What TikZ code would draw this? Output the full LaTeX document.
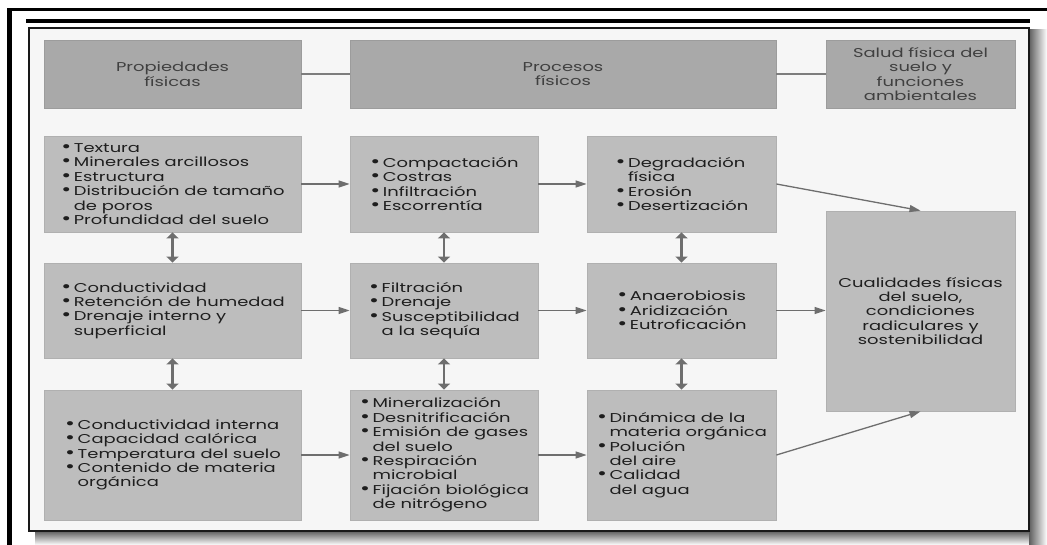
\documentclass[tikz,border=0pt]{standalone}
\usepackage{fontspec}
\setmainfont[FakeStretch=1.4]{Poppins}
\usetikzlibrary{arrows.meta}
\definecolor{boxfill}{HTML}{BDBDBD}
\definecolor{boxline}{HTML}{B0B0B0}
\definecolor{headfill}{HTML}{A9A9A9}
\definecolor{headline}{HTML}{9C9C9C}
\definecolor{arrowc}{HTML}{6E6E6E}
\definecolor{bgc}{HTML}{F6F6F6}
\definecolor{txt}{HTML}{1E1E1E}
\definecolor{shadowc}{HTML}{5E5E5E}
\newcommand{\bu}{\makebox[13.5pt][l]{\hspace{1pt}\scalebox{1.35}{•}}}
\newcommand{\ct}{\hspace*{13.5pt}}
\tikzset{
  txtfont/.style={font=\fontsize{12.8}{14.4}\selectfont},
  cbox/.style={draw=boxline, fill=boxfill, line width=0.8pt, inner sep=0pt, align=left, text=txt, txtfont},
  hbox/.style={draw=headline, fill=headfill, line width=0.8pt, inner sep=0pt, align=center, text=txt!85, txtfont},
  arr/.style={draw=arrowc, line width=1.3pt, -{Triangle[length=11pt,width=7pt]}},
  dbl/.style={draw=arrowc, line width=2.8pt, {Triangle[length=6pt,width=12pt]}-{Triangle[length=6pt,width=12pt]}},
  hline/.style={draw=arrowc!90, line width=1.8pt}
}
\begin{document}
\begin{tikzpicture}[x=1pt,y=-1pt]
\useasboundingbox (0,0) rectangle (1047,545);
\fill[white] (0,0) rectangle (1047,545);
% shadows
\shade[top color=shadowc, bottom color=white] (35,531) rectangle (1047,545);
\shade[left color=shadowc, right color=white] (1029,30) rectangle (1047,545);
% outer black frame
\fill[black] (7,8) rectangle (1047,11);
\fill[black] (7,8) rectangle (12,545);
\fill[black] (26,19) rectangle (1030,23.5);
% inner frame
\draw[line width=2pt, draw=black!90, fill=bgc] (29,28) rectangle (1029,531);

% headers
\node[hbox, minimum width=257pt, minimum height=68pt] (h1) at (172.5,74) {Propiedades\\físicas};
\node[hbox, minimum width=426pt, minimum height=68pt] (h2) at (563,74) {Procesos\\físicos};
\node[hbox, minimum width=189pt, minimum height=68pt] (h3) at (920.5,74) {Salud física del\\suelo y\\funciones\\ambientales};

% column 1
\node[cbox, minimum width=257pt, minimum height=96pt] (a1) at (172.5,184) {\bu Textura\\\bu Minerales arcillosos\\\bu Estructura\\\bu Distribución de tamaño\\\ct de poros\\\bu Profundidad del suelo};
\node[cbox, minimum width=257pt, minimum height=95pt] (a2) at (172.5,310.5) {\bu Conductividad\\\bu Retención de humedad\\\bu Drenaje interno y\\\ct superficial};
\node[cbox, minimum width=257pt, minimum height=130pt] (a3) at (172.5,455) {\bu Conductividad interna\\\bu Capacidad calórica\\\bu Temperatura del suelo\\\bu Contenido de materia\\\ct orgánica};

% column 2
\node[cbox, minimum width=188pt, minimum height=96pt] (b1) at (444,184) {\bu Compactación\\\bu Costras\\\bu Infiltración\\\bu Escorrentía};
\node[cbox, minimum width=188pt, minimum height=95pt] (b2) at (444,310.5) {\bu Filtración\\\bu Drenaje\\\bu Susceptibilidad\\\ct a la sequía};
\node[cbox, minimum width=188pt, minimum height=130pt] (b3) at (444,455) {\bu Mineralización\\\bu Desnitrificación\\\bu Emisión de gases\\\ct del suelo\\\bu Respiración\\\ct microbial\\\bu Fijación biológica\\\ct de nitrógeno};

% column 3
\node[cbox, minimum width=189pt, minimum height=96pt] (c1) at (681.5,184) {\bu Degradación\\\ct física\\\bu Erosión\\\bu Desertización};
\node[cbox, minimum width=189pt, minimum height=95pt] (c2) at (681.5,310.5) {\bu Anaerobiosis\\\bu Aridización\\\bu Eutroficación};
\node[cbox, minimum width=189pt, minimum height=130pt] (c3) at (681.5,455) {\bu Dinámica de la\\\ct materia orgánica\\\bu Polución\\\ct del aire\\\bu Calidad\\\ct del agua};

% big box
\node[cbox, align=center, minimum width=189pt, minimum height=200pt] (big) at (920.5,311) {Cualidades físicas\\del suelo,\\condiciones\\radiculares y\\sostenibilidad};

% header connectors
\draw[hline] (h1.east) -- (h2.west);
\draw[hline] (h2.east) -- (h3.west);

% horizontal arrows
\draw[arr] (a1) -- (b1);
\draw[arr] (a2) -- (b2);
\draw[arr] (a3) -- (b3);
\draw[arr] (b1) -- (c1);
\draw[arr] (b2) -- (c2);
\draw[arr] (b3) -- (c3);
\draw[arr] (c1.east) -- (big.north);
\draw[arr] (c2.east) -- (c2.east -| big.west);
\draw[arr] (c3.east) -- (big.south);

% vertical double arrows
\draw[dbl] (a1.south) -- (a2.north);
\draw[dbl] (a2.south) -- (a3.north);
\draw[dbl] (b1.south) -- (b2.north);
\draw[dbl] (b2.south) -- (b3.north);
\draw[dbl] (c1.south) -- (c2.north);
\draw[dbl] (c2.south) -- (c3.north);
\end{tikzpicture}
\end{document}
